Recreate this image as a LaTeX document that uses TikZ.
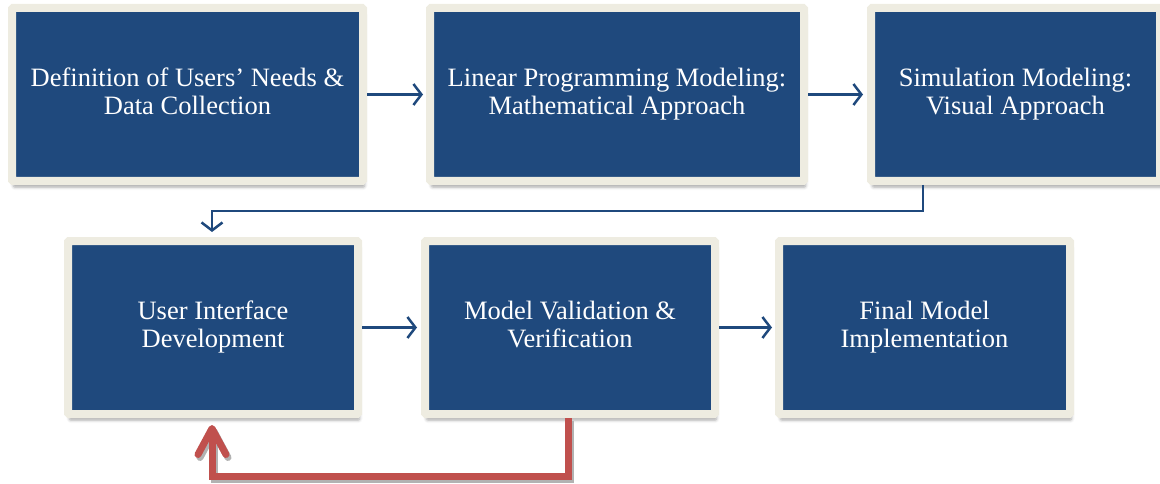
\documentclass[tikz,border=0pt]{standalone}
\usepackage{fontspec}
\setmainfont{Liberation Serif}
\usetikzlibrary{positioning,calc,arrows.meta,shadows.blur}
\definecolor{stageblue}{RGB}{31,73,125}
\definecolor{stageframe}{RGB}{238,236,225}
\definecolor{backred}{RGB}{192,80,77}

\begin{document}
\begin{tikzpicture}[x=1pt,y=-1pt,
    stage/.style={draw=stageframe, line width=8pt, fill=stageblue, rounded corners=1pt,
      minimum height=173pt, inner sep=0pt, text=white, align=center,
      font=\fontsize{26.5}{28}\selectfont,
      execute at begin node=\rule{0pt}{33pt}, execute at end node=\rule[-6pt]{0pt}{6pt},
      blur shadow={shadow xshift=1.5pt, shadow yshift=-6pt, shadow blur radius=3pt, shadow opacity=35}},
    flow/.style={draw=stageblue, line width=2.5pt, -{Straight Barb[length=8pt,width=21pt]}},
    loopback/.style={draw=backred, line width=7pt, line join=miter,
      -{Straight Barb[length=26pt,width=28pt,round]}}]
    \useasboundingbox (0,0) rectangle (1160,484);

    \node[stage, minimum width=351pt] (needs) at (187.5,94.5) {Definition of Users’ Needs \&\\Data Collection};
    \node[stage, minimum width=374pt] (lpmod) at (617,94.5) {Linear Programming Modeling:\\Mathematical Approach};
    \node[stage, minimum width=289pt] (simmod) at (1015.5,94.5) {Simulation Modeling:\\Visual Approach};

    \node[stage, minimum width=290pt] (uidev) at (213,327.5) {User Interface\\Development};
    \node[stage, minimum width=290pt] (valid) at (570,327.5) {Model Validation \&\\Verification};
    \node[stage, minimum width=291pt] (final) at (924.5,327.5) {Final Model\\Implementation};

    \draw[flow, shorten >=3pt] (needs) -- (lpmod);
    \draw[flow, shorten >=4pt] (lpmod) -- (simmod);
    \draw[flow] ([xshift=-92.5pt]simmod.south) -- ++(0,26) -| ([xshift=-1pt, yshift=5pt]uidev.north);
    \draw[flow, shorten >=4pt] (uidev) -- (valid);
    \draw[flow, shorten >=3pt] (valid) -- (final);

    \begin{scope}[transform canvas={xshift=2pt, yshift=-3pt}]
      \draw[loopback, draw=black!30] ([xshift=-2pt]valid.south) -- ++(0,58) -| ([xshift=-1pt, yshift=-7pt]uidev.south);
    \end{scope}
    \draw[loopback] ([xshift=-2pt]valid.south) -- ++(0,58) -| ([xshift=-1pt, yshift=-7pt]uidev.south);
\end{tikzpicture}
\end{document}
